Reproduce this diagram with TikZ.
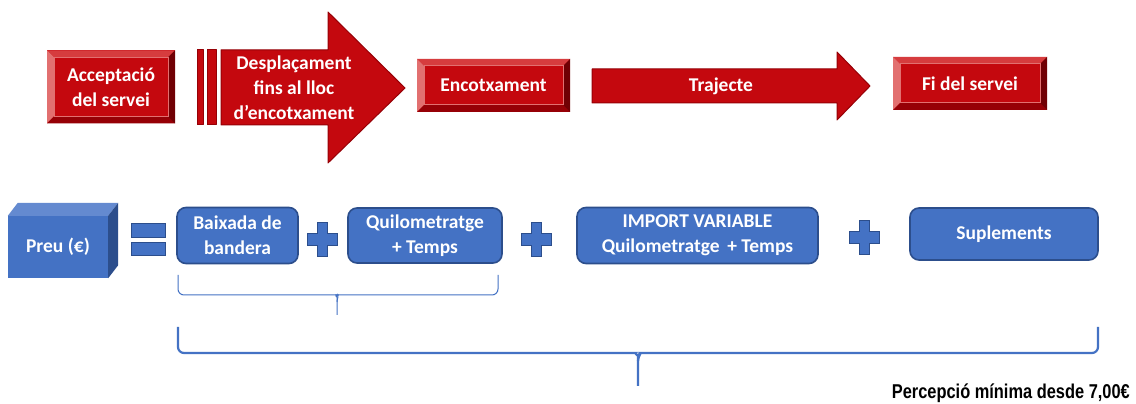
\documentclass[tikz,border=0pt]{standalone}
\usepackage{fontspec}
\setmainfont{Carlito}
\newfontfamily\narrowfont{Liberation Sans}
\usetikzlibrary{positioning}

\definecolor{boxred}{RGB}{196,8,14}
\definecolor{redtop}{RGB}{214,60,62}
\definecolor{redlight}{RGB}{226,112,112}
\definecolor{reddark}{RGB}{150,0,6}
\definecolor{redshade}{RGB}{112,0,4}
\definecolor{boxblue}{RGB}{68,114,196}
\definecolor{bluedark}{RGB}{44,78,140}
\definecolor{bluelight}{RGB}{110,146,212}
\definecolor{bluetop}{RGB}{100,138,208}

\begin{document}
\begin{tikzpicture}[x=1pt,y=-1pt,
    txt/.style={text=white, align=center, inner sep=0pt,
      font=\bfseries\fontsize{19.5}{25}\selectfont},
    bevel/.style={txt, fill=boxred, path picture={
      \path (path picture bounding box.north west) coordinate (bnw)
            (path picture bounding box.north east) coordinate (bne)
            (path picture bounding box.south west) coordinate (bsw)
            (path picture bounding box.south east) coordinate (bse);
      \fill[redtop] (bnw) -- (bne) -- ([shift={(-7pt,-7pt)}]bne) -- ([shift={(7pt,-7pt)}]bnw) -- cycle;
      \fill[redlight] (bnw) -- (bsw) -- ([shift={(7pt,7pt)}]bsw) -- ([shift={(7pt,-7pt)}]bnw) -- cycle;
      \fill[reddark] (bsw) -- (bse) -- ([shift={(-7pt,7pt)}]bse) -- ([shift={(7pt,7pt)}]bsw) -- cycle;
      \fill[redshade] (bne) -- (bse) -- ([shift={(-7pt,7pt)}]bse) -- ([shift={(-7pt,-7pt)}]bne) -- cycle;
      \draw[redlight, line width=1pt] ([shift={(7pt,-7pt)}]bnw) rectangle ([shift={(-7pt,7pt)}]bse);
    }},
    arrowbody/.style={fill=boxred, draw=reddark, line width=1pt, line join=round},
    bluebox/.style={txt, fill=boxblue, draw=bluedark, line width=1.6pt, rounded corners=9pt},
    crossmark/.style={fill=boxblue, draw=bluedark, line width=1pt},
    brace/.style={draw=boxblue, rounded corners=6pt, line width=1pt}
  ]
  \fill[white] (0,0) rectangle (1136,403);

  % top row: the course of a service
  \node[bevel, minimum width=128pt, minimum height=73pt] (accep) at (111,87) {Acceptació\\del servei};

  \draw[arrowbody] (197,50) rectangle (203,125);
  \draw[arrowbody] (207,50) rectangle (216,125);
  \draw[arrowbody] (221,50) -- (328,50) -- (328,12) -- (405,88) -- (328,163)
    -- (328,125) -- (221,125) -- cycle;
  \node[txt] (despl) at (294,88) {Desplaçament\\fins al lloc\\d’encotxament};

  \node[bevel, minimum width=153pt, minimum height=53pt] (encot) at (493.5,85.5) {Encotxament};

  \draw[arrowbody] (592,69) -- (837,69) -- (837,52) -- (870,86) -- (837,120)
    -- (837,103) -- (592,103) -- cycle;
  \node[txt] (traj) at (721,86) {Trajecte};

  \node[bevel, minimum width=154pt, minimum height=53pt] (fiserv) at (970,83.5) {Fi del servei};

  % bottom row: the price
  \node[txt, fill=boxblue, minimum width=100pt, minimum height=62pt] (preu) at (58,247) {Preu (€)};
  \fill[bluetop] (preu.north west) -- ++(10,-13) -- ([shift={(10,-13)}]preu.north east)
    -- (preu.north east) -- cycle;
  \fill[bluedark] (preu.north east) -- ++(10,-13) -- ([shift={(10,-13)}]preu.south east)
    -- (preu.south east) -- cycle;

  \fill[crossmark] (131,224) rectangle (165,238) (131,243) rectangle (165,256);

  \node[bluebox, minimum width=121pt, minimum height=56pt] (baix) at (237.5,235.5) {Baixada de\\bandera};
  \node[bluebox, minimum width=154pt, minimum height=55pt] (quilo) at (425,235.5) {Quilometratge\\+ Temps};
  \node[bluebox, minimum width=241pt, minimum height=56pt] (import) at (697.5,235.5) {IMPORT VARIABLE\\Quilometratge\, + Temps};
  \node[bluebox, minimum width=188pt, minimum height=52pt] (suple) at (1004,234) {Suplements};

  \foreach \cx/\cy in {322/240, 536.5/240, 864/237.5} {
    \filldraw[crossmark, shift={(\cx,\cy)}] (-5,-17) -- (5,-17) -- (5,-6) -- (15,-6) -- (15,6)
      -- (5,6) -- (5,17) -- (-5,17) -- (-5,6) -- (-15,6) -- (-15,-6) -- (-5,-6) -- cycle;
  }

  % braces
  \coordinate (sb) at (337,302);
  \draw[brace] (178,275) |- (331,295) to[out=0,in=90] (sb) -- (337,315);
  \draw[brace] (498,275) |- (343,295) to[out=180,in=90] (sb);
  \coordinate (bb) at (638,361);
  \draw[brace, line width=2.2pt] (178,327) |- (630,353) to[out=0,in=90] (bb) -- (638,386);
  \draw[brace, line width=2.2pt] (1098,327) |- (646,353) to[out=180,in=90] (bb);

  \node[anchor=base east, inner sep=0pt, font=\narrowfont\bfseries\fontsize{20}{24}\selectfont]
    (minim) at (1130,399) {\scalebox{0.82}[1]{Percepció mínima desde 7,00€}};
\end{tikzpicture}
\end{document}
